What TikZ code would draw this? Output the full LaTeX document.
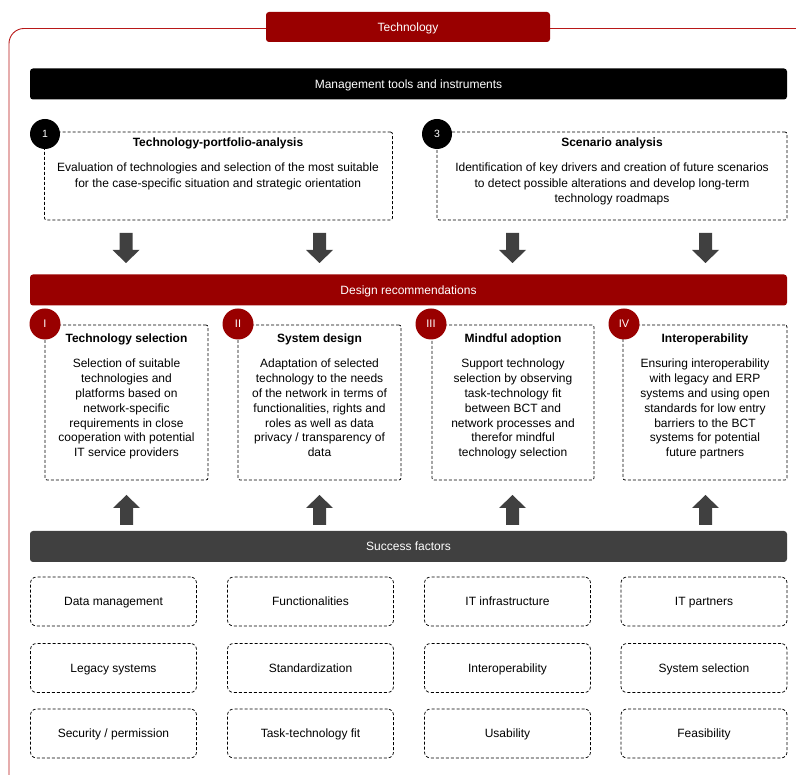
\documentclass[tikz,border=0pt]{standalone}
\usepackage{fontspec}
\setmainfont{Liberation Sans}
\definecolor{dred}{HTML}{990000}
\definecolor{framered}{HTML}{B81818}
\definecolor{dgray}{HTML}{404040}
\tikzset{
  bar/.style={rounded corners=3pt, minimum height=31pt, minimum width=757pt, inner sep=0pt, text=white, text height=8.8pt, text depth=0pt, font=\fontsize{12}{14}\selectfont},
  dbox/.style={draw=black, line width=0.75pt, dash pattern=on 3pt off 2pt, rounded corners=2pt, inner sep=0pt},
  fbox/.style={draw=black, line width=0.75pt, dash pattern=on 3pt off 2pt, rounded corners=6pt, inner sep=0pt, minimum width=166pt, minimum height=49pt, text height=8.8pt, text depth=0pt, font=\fontsize{12}{14}\selectfont},
  ttl/.style={font=\bfseries\fontsize{12}{14}\selectfont, inner sep=0pt},
  body/.style={align=center, font=\fontsize{12}{15.2}\selectfont, inner sep=0pt, anchor=north},
  rbody/.style={align=center, font=\fontsize{12}{14.8}\selectfont, inner sep=0pt, anchor=north},
  numc/.style={circle, fill=black, minimum size=30pt, inner sep=0pt, text=white, font=\fontsize{10.5}{12}\selectfont},
  romc/.style={circle, fill=dred, minimum size=31pt, inner sep=0pt, text=white, font=\fontsize{11}{12}\selectfont},
  downarr/.pic={\fill[dgray] (-6.5,-15) -- (6.5,-15) -- (6.5,2) -- (13.5,2) -- (0,15) -- (-13.5,2) -- (-6.5,2) -- cycle;},
  uparr/.pic={\fill[dgray] (-6.5,15) -- (6.5,15) -- (6.5,-2) -- (13.5,-2) -- (0,-15) -- (-13.5,-2) -- (-6.5,-2) -- cycle;},
}
\begin{document}
\begin{tikzpicture}[x=1pt,y=-1pt]
\useasboundingbox (0,0) rectangle (796,775);
\begin{scope}
\clip (0,0) rectangle (796,775);
\draw[framered, line width=0.9pt, rounded corners=15pt] (9,28.5) rectangle (812,800);
\end{scope}
% tab
\node[fill=dred, rounded corners=3pt, minimum width=284pt, minimum height=30pt, inner sep=0pt, text=white, text height=8.8pt, text depth=0pt, font=\fontsize{12}{14}\selectfont] (tab) at (408,27) {Technology};
% management bar
\node[bar, fill=black] (mgmt) at (408.5,84) {Management tools and instruments};
% box 1
\node[dbox, minimum width=348pt, minimum height=88pt] (b1) at (218.5,176) {};
\node[numc] (c1) at (45,134) {1};
\node[ttl] (t1) at (218,143.5) {Technology-portfolio-analysis};
\node[body] (x1) at (218,163) {Evaluation of technologies and selection of the most suitable\\for the case-specific situation and strategic orientation};
% box 3
\node[dbox, minimum width=350pt, minimum height=88pt] (b3) at (612,176) {};
\node[numc] (c3) at (437,134) {3};
\node[ttl] (t3) at (612,143.5) {Scenario analysis};
\node[body] (x3) at (612,163) {Identification of key drivers and creation of future scenarios\\to detect possible alterations and develop long-term\\technology roadmaps};
% down arrows
\pic (d1) at (126,248) {downarr};
\pic (d2) at (319.5,248) {downarr};
\pic (d3) at (512.5,248) {downarr};
\pic (d4) at (705.5,248) {downarr};
% design bar
\node[bar, fill=dred] (design) at (408.5,290) {Design recommendations};
% rec boxes
\node[dbox, minimum width=163pt, minimum height=155pt] (r1) at (126.5,402.5) {};
\node[dbox, minimum width=163pt, minimum height=155pt] (r2) at (319.5,402.5) {};
\node[dbox, minimum width=162pt, minimum height=155pt] (r3) at (513,402.5) {};
\node[dbox, minimum width=164pt, minimum height=155pt] (r4) at (705,402.5) {};
\node[romc] (i1) at (45,324) {I};
\node[romc] (i2) at (238,324) {II};
\node[romc] (i3) at (431,324) {III};
\node[romc] (i4) at (624,324) {IV};
\node[ttl] (rt1) at (126.5,339) {Technology selection};
\node[ttl] (rt2) at (319.5,339) {System design};
\node[ttl] (rt3) at (513,339) {Mindful adoption};
\node[ttl] (rt4) at (705,339) {Interoperability};
\node[rbody] (rx1) at (126.5,359) {Selection of suitable\\technologies and\\platforms based on\\network-specific\\requirements in close\\cooperation with potential\\IT service providers};
\node[rbody] (rx2) at (319.5,359) {Adaptation of selected\\technology to the needs\\of the network in terms of\\functionalities, rights and\\roles as well as data\\privacy / transparency of\\data};
\node[rbody] (rx3) at (513,359) {Support technology\\selection by observing\\task-technology fit\\between BCT and\\network processes and\\therefor mindful\\technology selection};
\node[rbody] (rx4) at (705,359) {Ensuring interoperability\\with legacy and ERP\\systems and using open\\standards for low entry\\barriers to the BCT\\systems for potential\\future partners};
% up arrows
\pic (u1) at (126.5,510) {uparr};
\pic (u2) at (319.5,510) {uparr};
\pic (u3) at (512.5,510) {uparr};
\pic (u4) at (705.5,510) {uparr};
% success bar
\node[bar, fill=dgray] (success) at (408.5,546.5) {Success factors};
% factor boxes
\node[fbox] (f11) at (113.5,601.5) {Data management};
\node[fbox] (f12) at (310.5,601.5) {Functionalities};
\node[fbox] (f13) at (507.5,601.5) {IT infrastructure};
\node[fbox] (f14) at (704,601.5) {IT partners};
\node[fbox] (f21) at (113.5,668) {Legacy systems};
\node[fbox] (f22) at (310.5,668) {Standardization};
\node[fbox] (f23) at (507.5,668) {Interoperability};
\node[fbox] (f24) at (704,668) {System selection};
\node[fbox] (f31) at (113.5,733.5) {Security / permission};
\node[fbox] (f32) at (310.5,733.5) {Task-technology fit};
\node[fbox] (f33) at (507.5,733.5) {Usability};
\node[fbox] (f34) at (704,733.5) {Feasibility};
\end{tikzpicture}
\end{document}
